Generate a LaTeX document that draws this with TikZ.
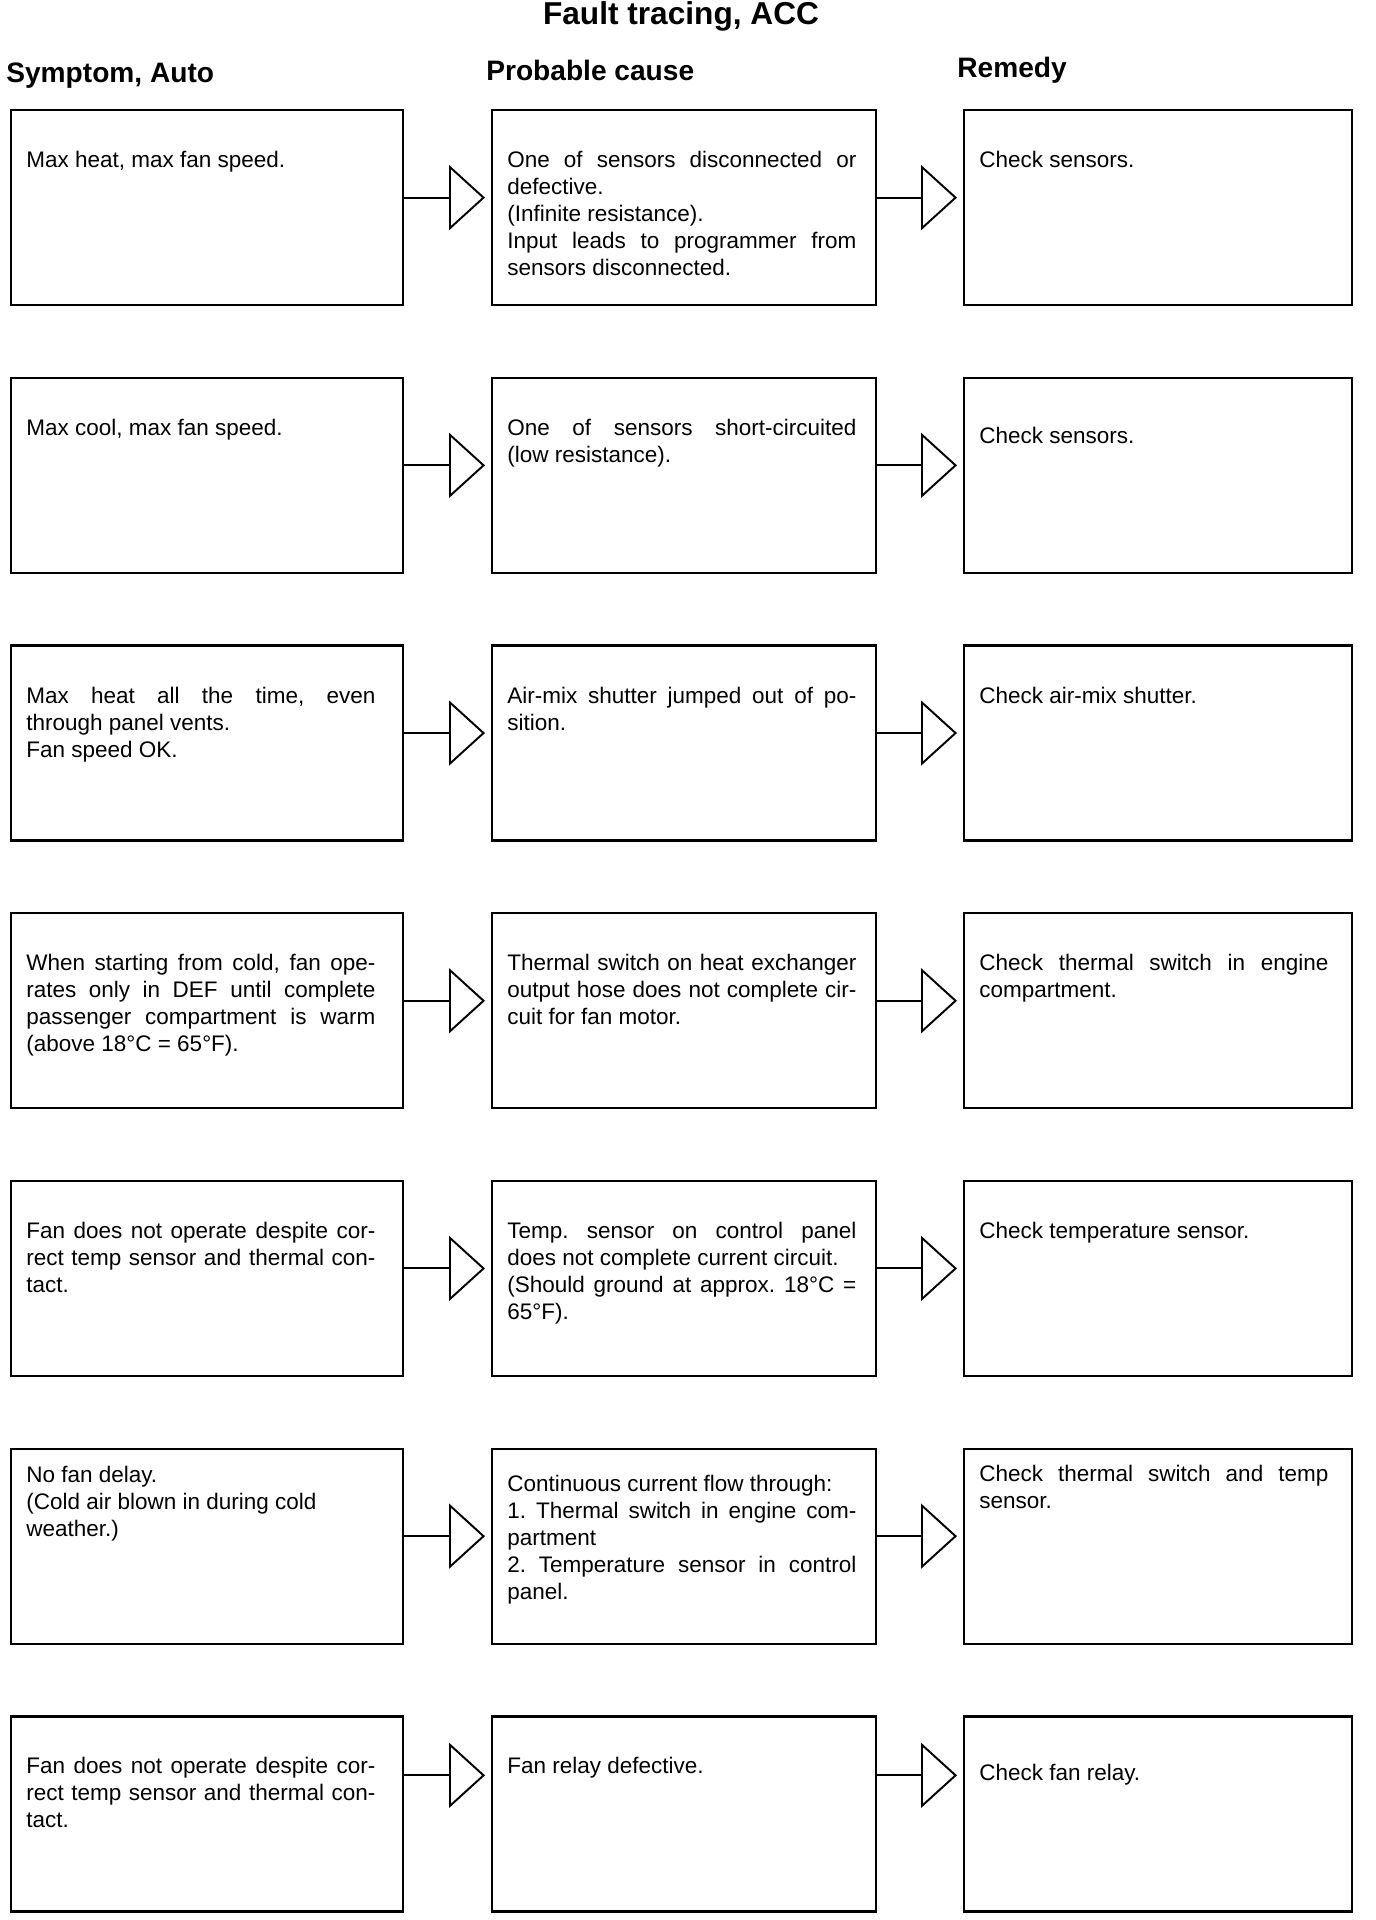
\documentclass[tikz,border=0pt]{standalone}
\usepackage{fontspec}
\setmainfont{Liberation Sans}
\usetikzlibrary{arrows.meta,positioning}
\frenchspacing

\begin{document}
\begin{tikzpicture}[box/.style={draw, line width=1.3pt, minimum width=#1, minimum height=3.9cm, anchor=north west, inner sep=0pt},txt/.style={text width=6.98cm, align=justify, inner sep=0pt, font=\fontsize{12.8}{15.4}\selectfont},head/.style={anchor=base west, inner sep=0pt, font=\fontsize{16}{19}\selectfont\bfseries},title/.style={anchor=base, inner sep=0pt, font=\fontsize{18}{21}\selectfont\bfseries},flow/.style={line width=1.1pt, -{Triangle[open, fill=white, length=0.72cm, width=1.3cm]}, shorten >=0.12cm}]
\useasboundingbox (0,0) rectangle (27.52,-38.4);
\node[title] (ttl) at (13.62,-0.5) {Fault tracing, ACC};
\node[head] (hsym) at (0.12,-1.66) {Symptom, Auto};
\node[head] (hcause) at (9.72,-1.62) {Probable cause};
\node[head] (hrem) at (19.14,-1.56) {Remedy};
% row 1
\node[box=7.84cm] (s1) at (0.2,-2.18) {}; \node[box=7.68cm] (c1) at (9.82,-2.18) {}; \node[box=7.76cm] (r1) at (19.26,-2.18) {};
\node[txt, below right=0.84cm and 0.32cm of s1.north west] (ts1) {Max heat, max fan speed.};
\node[txt, below right=0.84cm and 0.32cm of c1.north west] (tc1) {One of sensors disconnected or\linebreak defective.\\(Infinite resistance).\\Input leads to programmer from\linebreak sensors disconnected.};
\node[txt, below right=0.84cm and 0.32cm of r1.north west] (tr1) {Check sensors.};
\draw[flow] ([yshift=2mm]s1.east) -- ([yshift=2mm]c1.west); \draw[flow] ([yshift=2mm]c1.east) -- ([yshift=2mm]r1.west);
% row 2
\node[box=7.84cm] (s2) at (0.2,-7.534) {}; \node[box=7.68cm] (c2) at (9.82,-7.534) {}; \node[box=7.76cm] (r2) at (19.26,-7.534) {};
\node[txt, below right=0.84cm and 0.32cm of s2.north west] (ts2) {Max cool, max fan speed.};
\node[txt, below right=0.84cm and 0.32cm of c2.north west] (tc2) {One of sensors short-circuited\linebreak (low resistance).};
\node[txt, below right=1.0cm and 0.32cm of r2.north west] (tr2) {Check sensors.};
\draw[flow] ([yshift=2mm]s2.east) -- ([yshift=2mm]c2.west); \draw[flow] ([yshift=2mm]c2.east) -- ([yshift=2mm]r2.west);
% row 3
\node[box=7.84cm] (s3) at (0.2,-12.888) {}; \node[box=7.68cm] (c3) at (9.82,-12.888) {}; \node[box=7.76cm] (r3) at (19.26,-12.888) {};
\node[txt, below right=0.84cm and 0.32cm of s3.north west] (ts3) {Max heat all the time, even\linebreak through panel vents.\\Fan speed OK.};
\node[txt, below right=0.84cm and 0.32cm of c3.north west] (tc3) {Air-mix shutter jumped out of po-\linebreak sition.};
\node[txt, below right=0.84cm and 0.32cm of r3.north west] (tr3) {Check air-mix shutter.};
\draw[flow] ([yshift=2mm]s3.east) -- ([yshift=2mm]c3.west); \draw[flow] ([yshift=2mm]c3.east) -- ([yshift=2mm]r3.west);
% row 4
\node[box=7.84cm] (s4) at (0.2,-18.242) {}; \node[box=7.68cm] (c4) at (9.82,-18.242) {}; \node[box=7.76cm] (r4) at (19.26,-18.242) {};
\node[txt, below right=0.84cm and 0.32cm of s4.north west] (ts4) {When starting from cold, fan ope-\linebreak rates only in DEF until complete\linebreak passenger compartment is warm\linebreak (above 18°C = 65°F).};
\node[txt, below right=0.84cm and 0.32cm of c4.north west] (tc4) {Thermal switch on heat exchanger\linebreak output hose does not complete cir-\linebreak cuit for fan motor.};
\node[txt, below right=0.84cm and 0.32cm of r4.north west] (tr4) {Check thermal switch in engine\linebreak compartment.};
\draw[flow] ([yshift=2mm]s4.east) -- ([yshift=2mm]c4.west); \draw[flow] ([yshift=2mm]c4.east) -- ([yshift=2mm]r4.west);
% row 5
\node[box=7.84cm] (s5) at (0.2,-23.596) {}; \node[box=7.68cm] (c5) at (9.82,-23.596) {}; \node[box=7.76cm] (r5) at (19.26,-23.596) {};
\node[txt, below right=0.84cm and 0.32cm of s5.north west] (ts5) {Fan does not operate despite cor-\linebreak rect temp sensor and thermal con-\linebreak tact.};
\node[txt, below right=0.84cm and 0.32cm of c5.north west] (tc5) {Temp. sensor on control panel\linebreak does not complete current circuit.\\(Should ground at approx. 18°C =\linebreak 65°F).};
\node[txt, below right=0.84cm and 0.32cm of r5.north west] (tr5) {Check temperature sensor.};
\draw[flow] ([yshift=2mm]s5.east) -- ([yshift=2mm]c5.west); \draw[flow] ([yshift=2mm]c5.east) -- ([yshift=2mm]r5.west);
% row 6
\node[box=7.84cm] (s6) at (0.2,-28.95) {}; \node[box=7.68cm] (c6) at (9.82,-28.95) {}; \node[box=7.76cm] (r6) at (19.26,-28.95) {};
\node[txt, below right=0.36cm and 0.32cm of s6.north west] (ts6) {No fan delay.\\(Cold air blown in during cold\\weather.)};
\node[txt, below right=0.54cm and 0.32cm of c6.north west] (tc6) {Continuous current flow through:\\1. Thermal switch in engine com-\linebreak partment\\2. Temperature sensor in control\linebreak panel.};
\node[txt, below right=0.34cm and 0.32cm of r6.north west] (tr6) {Check thermal switch and temp\linebreak sensor.};
\draw[flow] ([yshift=2mm]s6.east) -- ([yshift=2mm]c6.west); \draw[flow] ([yshift=2mm]c6.east) -- ([yshift=2mm]r6.west);
% row 7
\node[box=7.84cm] (s7) at (0.2,-34.304) {}; \node[box=7.68cm] (c7) at (9.82,-34.304) {}; \node[box=7.76cm] (r7) at (19.26,-34.304) {};
\node[txt, below right=0.84cm and 0.32cm of s7.north west] (ts7) {Fan does not operate despite cor-\linebreak rect temp sensor and thermal con-\linebreak tact.};
\node[txt, below right=0.84cm and 0.32cm of c7.north west] (tc7) {Fan relay defective.};
\node[txt, below right=0.98cm and 0.32cm of r7.north west] (tr7) {Check fan relay.};
\draw[flow] ([yshift=7.7mm]s7.east) -- ([yshift=7.7mm]c7.west); \draw[flow] ([yshift=7.7mm]c7.east) -- ([yshift=7.7mm]r7.west);
\end{tikzpicture}
\end{document}
